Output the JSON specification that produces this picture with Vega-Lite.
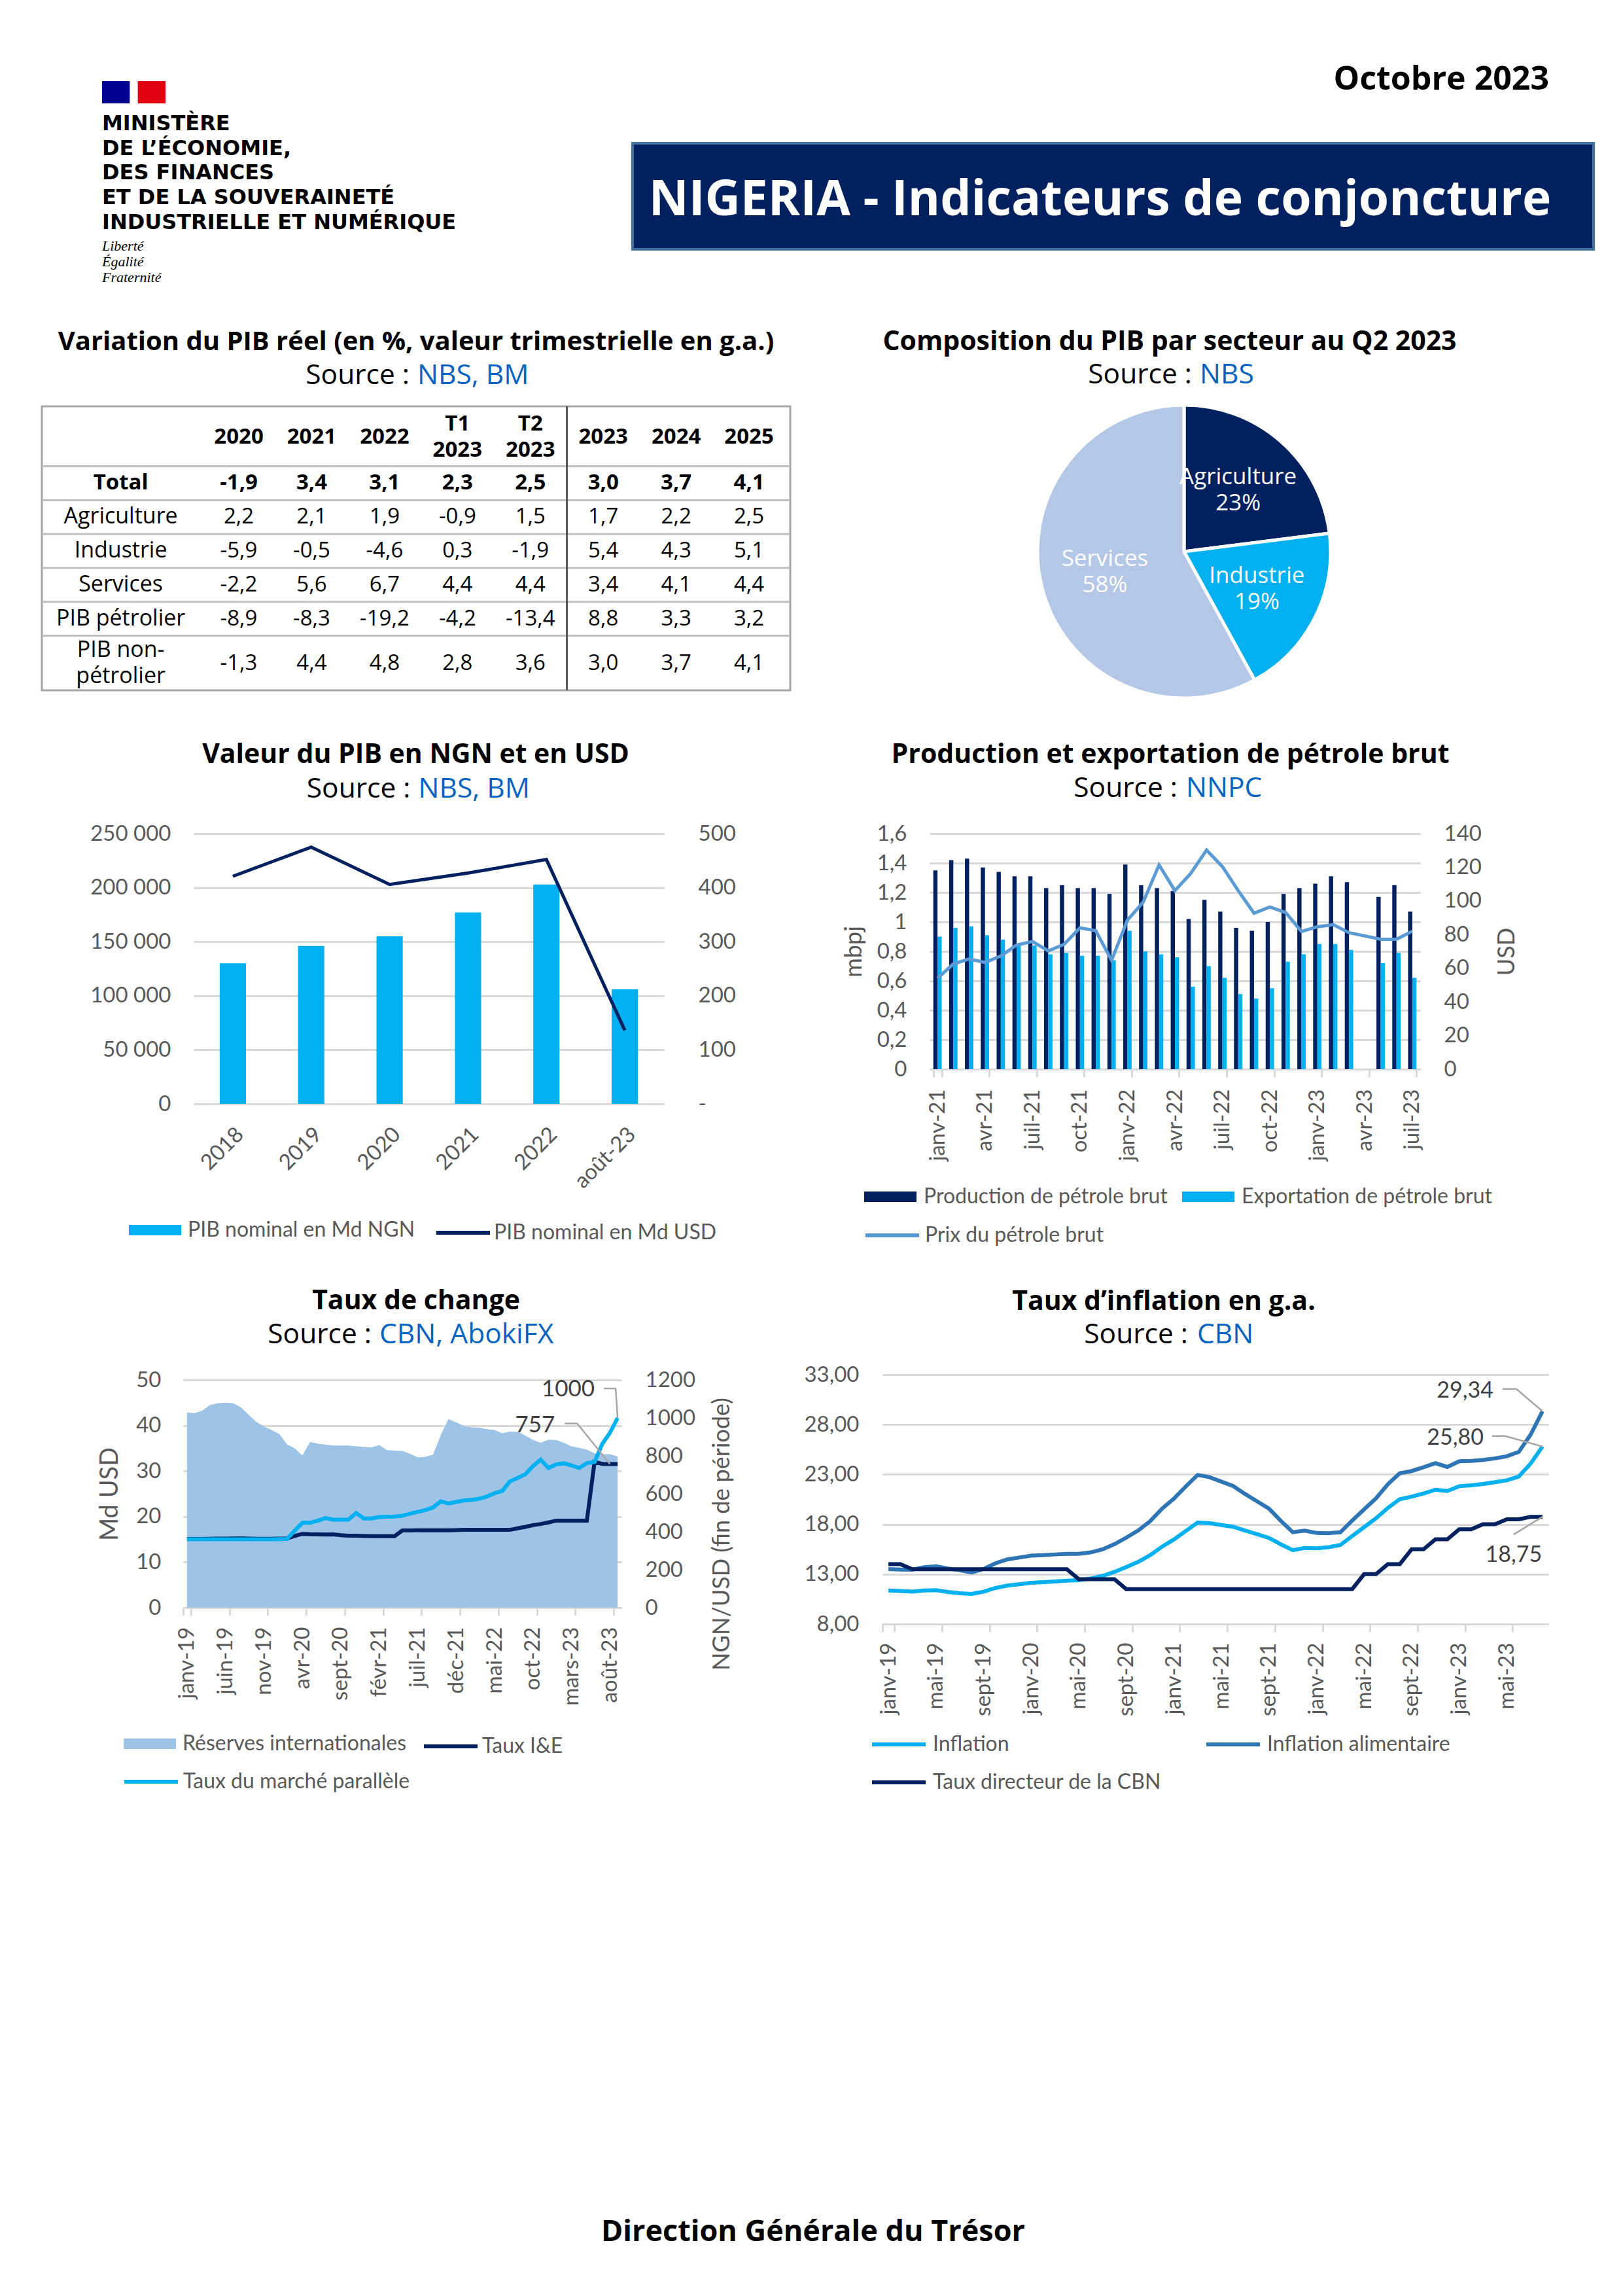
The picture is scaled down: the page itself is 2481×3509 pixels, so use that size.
{
"$schema": "https://vega.github.io/schema/vega-lite/v6.json",
"padding": 0,
"background": "white",
"spacing": 0,
"align": "each",
"resolve": {"scale": {"color": "independent", "fill": "independent", "stroke": "independent"}},
"config": {
  "font": "Lato",
  "view": {"stroke": null},
  "title": {"font": "Open Sans", "fontSize": 41, "fontWeight": "bold", "color": "#000000", "anchor": "middle", "frame": "group"},
  "axis": {"labelFont": "Lato", "labelFontSize": 33, "labelColor": "#595959", "labelLimit": 0, "titleFont": "Lato", "titleFontSize": 36, "titleFontWeight": "normal", "titleColor": "#595959", "gridColor": "#D9D9D9", "gridWidth": 3, "domain": false, "ticks": false, "labelOverlap": false},
  "legend": {"labelFont": "Lato", "labelFontSize": 32, "labelColor": "#595959", "labelLimit": 0, "padding": 0},
  "text": {"font": "Open Sans"},
  "locale": {"number": {"decimal": ",", "thousands": " ", "grouping": [3], "currency": ["", " €"], "minus": "-"}}
},
"vconcat": [
  {"width": 1, "height": 90, "data": {"values": []}, "mark": "point"},
  {"hconcat": [
    {"width": 156, "height": 390, "data": {"values": []}, "mark": "point"},
    {"vconcat": [
      {"width": 97, "height": 34, "data": {"values": []}, "mark": "point"},
      {
        "width": 97, "height": 34,
        "data": {"values": [{"bande": "bleu"}, {"bande": "rouge"}]},
        "mark": {"type": "bar"},
        "encoding": {
          "x": {"field": "bande", "type": "nominal", "sort": ["bleu", "rouge"], "axis": null, "scale": {"paddingInner": 0.225, "paddingOuter": 0}},
          "fill": {"field": "bande", "type": "nominal", "scale": {"domain": ["bleu", "rouge"], "range": ["#000091", "#E1000F"]}, "legend": null}
        },
        "title": {"text": ["MINISTÈRE", "DE L’ÉCONOMIE,", "DES FINANCES", "ET DE LA SOUVERAINETÉ", "INDUSTRIELLE ET NUMÉRIQUE"], "orient": "bottom", "anchor": "start", "font": "DejaVu Sans", "fontSize": 32, "fontWeight": "bold", "lineHeight": 37.7, "offset": 16, "subtitle": ["Liberté", "Égalité", "Fraternité"], "subtitleFont": "Liberation Serif", "subtitleFontStyle": "italic", "subtitleFontSize": 22, "subtitleLineHeight": 24, "subtitlePadding": 9, "subtitleColor": "#000000"}
      }
    ], "spacing": 0, "bounds": "flush", "align": "each"},
    {"width": 811, "height": 1, "data": {"values": []}, "mark": "point"},
    {"vconcat": [
      {"width": 1469, "height": 129, "data": {"values": []}, "mark": "point"},
      {
        "width": 1469, "height": 162,
        "view": {"fill": "#002060", "stroke": "#41719C", "strokeWidth": 4},
        "title": {"text": "Octobre 2023", "anchor": "end", "fontSize": 50, "offset": 72, "dx": -68},
        "data": {"values": [{"titre": "NIGERIA - Indicateurs de conjoncture"}]},
        "mark": {"type": "text", "color": "#FFFFFF", "font": "Open Sans", "fontSize": 75, "fontWeight": "bold", "dx": -20, "dy": 6},
        "encoding": {"text": {"field": "titre"}}
      }
    ], "spacing": 0, "bounds": "flush", "align": "each"}
  ], "spacing": 0, "bounds": "flush", "align": "each"},

  {"hconcat": [
    {"width": 64, "height": 630, "data": {"values": []}, "mark": "point"},
    {"vconcat": [
      {
        "width": 1144, "height": 141,
        "data": {"values": [{"titre": "Variation du PIB réel (en %, valeur trimestrielle en g.a.)", "source": "Source :", "lien": "NBS, BM"}]},
        "layer": [
          {"mark": {"type": "text", "fontSize": 40, "fontWeight": "bold", "color": "#000000", "dy": -28}, "encoding": {"text": {"field": "titre"}}},
          {"mark": {"type": "text", "fontSize": 42.5, "color": "#000000", "align": "right", "dx": -10, "dy": 23}, "encoding": {"text": {"field": "source"}}},
          {"mark": {"type": "text", "fontSize": 42.5, "color": "#0563C1", "align": "left", "dx": 2, "dy": 23}, "encoding": {"text": {"field": "lien"}}}
        ]
      },
      {
        "width": 1144, "height": 434,
        "view": {"stroke": "#A6A6A6", "strokeWidth": 3},
        "data": {"values": [
          {"ligne": "Total", "libelle": "Total", "2020": -1.9, "2021": 3.4, "2022": 3.1, "T1 2023": 2.3, "T2 2023": 2.5, "2023": 3.0, "2024": 3.7, "2025": 4.1},
          {"ligne": "Agriculture", "libelle": "Agriculture", "2020": 2.2, "2021": 2.1, "2022": 1.9, "T1 2023": -0.9, "T2 2023": 1.5, "2023": 1.7, "2024": 2.2, "2025": 2.5},
          {"ligne": "Industrie", "libelle": "Industrie", "2020": -5.9, "2021": -0.5, "2022": -4.6, "T1 2023": 0.3, "T2 2023": -1.9, "2023": 5.4, "2024": 4.3, "2025": 5.1},
          {"ligne": "Services", "libelle": "Services", "2020": -2.2, "2021": 5.6, "2022": 6.7, "T1 2023": 4.4, "T2 2023": 4.4, "2023": 3.4, "2024": 4.1, "2025": 4.4},
          {"ligne": "PIB pétrolier", "libelle": "PIB pétrolier", "2020": -8.9, "2021": -8.3, "2022": -19.2, "T1 2023": -4.2, "T2 2023": -13.4, "2023": 8.8, "2024": 3.3, "2025": 3.2},
          {"ligne": "PIB non-pétrolier", "libelle": "PIB non-\npétrolier", "2020": -1.3, "2021": 4.4, "2022": 4.8, "T1 2023": 2.8, "T2 2023": 3.6, "2023": 3.0, "2024": 3.7, "2025": 4.1}
        ]},
        "layer": [
          {"mark": {"type": "rule", "color": "#BFBFBF", "strokeWidth": 3},
           "encoding": {"y": {"field": "ligne", "type": "nominal", "bandPosition": 0, "axis": null,
             "scale": {"type": "band", "domain": ["Entête", "Total", "Agriculture", "Industrie", "Services", "PIB pétrolier", "PIB non-pétrolier"], "paddingInner": 0, "paddingOuter": 0.6925, "align": 0.556}}}},
          {"mark": {"type": "rule", "color": "#595959", "strokeWidth": 2},
           "encoding": {"x": {"datum": "2023", "type": "nominal", "bandPosition": 0, "axis": null,
             "scale": {"type": "band", "domain": ["Indicateur", "2020", "2021", "2022", "T1 2023", "T2 2023", "2023", "2024", "2025"], "paddingInner": 0, "paddingOuter": 0.633, "align": 0.949}}}},
          {"data": {"values": [{"col": "2020"}, {"col": "2021"}, {"col": "2022"}, {"col": "2023"}, {"col": "2024"}, {"col": "2025"}]},
           "mark": {"type": "text", "fontSize": 33, "fontWeight": "bold", "color": "#000000"},
           "encoding": {
             "x": {"field": "col", "type": "nominal", "axis": null},
             "y": {"datum": "Entête", "type": "nominal", "bandPosition": 0.13, "axis": null},
             "text": {"field": "col"}}},
          {"data": {"values": [{"col": "T1 2023"}, {"col": "T2 2023"}]},
           "mark": {"type": "text", "fontSize": 33, "fontWeight": "bold", "color": "#000000", "lineBreak": " ", "lineHeight": 40, "dy": -20},
           "encoding": {
             "x": {"field": "col", "type": "nominal", "axis": null},
             "y": {"datum": "Entête", "type": "nominal", "bandPosition": 0.13, "axis": null},
             "text": {"field": "col"}}},
          {"transform": [{"filter": {"field": "ligne", "oneOf": ["Agriculture", "Industrie", "Services", "PIB pétrolier"]}}],
           "mark": {"type": "text", "fontSize": 34, "color": "#000000", "dx": -69},
           "encoding": {"x": {"datum": "Indicateur", "type": "nominal", "axis": null}, "y": {"field": "ligne", "type": "nominal", "axis": null}, "text": {"field": "libelle"}}},
          {"transform": [{"filter": {"field": "ligne", "equal": "Total"}}],
           "mark": {"type": "text", "fontSize": 33, "fontWeight": "bold", "color": "#000000", "dx": -69},
           "encoding": {"x": {"datum": "Indicateur", "type": "nominal", "axis": null}, "y": {"field": "ligne", "type": "nominal", "axis": null}, "text": {"field": "libelle"}}},
          {"transform": [{"filter": {"field": "ligne", "equal": "PIB non-pétrolier"}}],
           "mark": {"type": "text", "fontSize": 34, "color": "#000000", "dx": -69, "dy": -20, "lineBreak": "\n", "lineHeight": 40},
           "encoding": {"x": {"datum": "Indicateur", "type": "nominal", "axis": null}, "y": {"field": "ligne", "type": "nominal", "bandPosition": 0.83, "axis": null}, "text": {"field": "libelle"}}},
          {"transform": [{"fold": ["2020", "2021", "2022", "T1 2023", "T2 2023", "2023", "2024", "2025"], "as": ["col", "v"]}, {"filter": {"field": "ligne", "oneOf": ["Agriculture", "Industrie", "Services", "PIB pétrolier"]}}],
           "mark": {"type": "text", "fontSize": 33, "color": "#000000"},
           "encoding": {"x": {"field": "col", "type": "nominal", "axis": null}, "y": {"field": "ligne", "type": "nominal", "axis": null}, "text": {"field": "v", "type": "quantitative", "format": ".1f"}}},
          {"transform": [{"fold": ["2020", "2021", "2022", "T1 2023", "T2 2023", "2023", "2024", "2025"], "as": ["col", "v"]}, {"filter": {"field": "ligne", "equal": "Total"}}],
           "mark": {"type": "text", "fontSize": 33, "fontWeight": "bold", "color": "#000000"},
           "encoding": {"x": {"field": "col", "type": "nominal", "axis": null}, "y": {"field": "ligne", "type": "nominal", "axis": null}, "text": {"field": "v", "type": "quantitative", "format": ".1f"}}},
          {"transform": [{"fold": ["2020", "2021", "2022", "T1 2023", "T2 2023", "2023", "2024", "2025"], "as": ["col", "v"]}, {"filter": {"field": "ligne", "equal": "PIB non-pétrolier"}}],
           "mark": {"type": "text", "fontSize": 33, "color": "#000000"},
           "encoding": {"x": {"field": "col", "type": "nominal", "axis": null}, "y": {"field": "ligne", "type": "nominal", "bandPosition": 0.83, "axis": null}, "text": {"field": "v", "type": "quantitative", "format": ".1f"}}}
        ]
      }
    ], "spacing": 0, "bounds": "flush", "align": "each"},
    {"width": 1522, "height": 1, "data": {"values": []}, "mark": "point"},
    {"vconcat": [
      {
        "width": 448, "height": 141,
        "data": {"values": [{"titre": "Composition du PIB par secteur au Q2 2023", "source": "Source :", "lien": "NBS"}]},
        "layer": [
          {"mark": {"type": "text", "fontSize": 41, "fontWeight": "bold", "color": "#000000", "dx": -22, "dy": -28}, "encoding": {"text": {"field": "titre"}}},
          {"mark": {"type": "text", "fontSize": 42.5, "color": "#000000", "align": "right", "dx": 12, "dy": 22}, "encoding": {"text": {"field": "source"}}},
          {"mark": {"type": "text", "fontSize": 42.5, "color": "#0563C1", "align": "left", "dx": 24, "dy": 22}, "encoding": {"text": {"field": "lien"}}}
        ]
      },
      {
        "width": 448, "height": 444,
        "data": {"values": [
          {"secteur": "Agriculture", "part": 23, "etiquette": "Agriculture\n23%"},
          {"secteur": "Industrie", "part": 19, "etiquette": "Industrie\n19%"},
          {"secteur": "Services", "part": 58, "etiquette": "Services\n58%"}
        ]},
        "encoding": {
          "theta": {"field": "part", "type": "quantitative", "stack": true},
          "order": {"field": "secteur", "type": "nominal", "sort": "ascending"}
        },
        "layer": [
          {"mark": {"type": "arc", "outerRadius": 224, "stroke": "#FFFFFF", "strokeWidth": 5},
           "encoding": {"color": {"field": "secteur", "type": "nominal", "scale": {"domain": ["Agriculture", "Industrie", "Services"], "range": ["#002060", "#00B0F0", "#B4C7E7"]}, "legend": null}}},
          {"mark": {"type": "text", "radius": 125, "lineBreak": "\n", "lineHeight": 40, "fontSize": 35, "color": "#FFFFFF", "dy": -20},
           "encoding": {"text": {"field": "etiquette"}, "detail": {"field": "secteur"}}}
        ]
      }
    ], "spacing": 0, "bounds": "flush", "align": "each"}
  ], "spacing": 0, "bounds": "flush", "align": "each"},

  {"hconcat": [
    {"width": 296, "height": 840, "data": {"values": []}, "mark": "point"},
    {"vconcat": [
      {
        "width": 719, "height": 164,
        "data": {"values": [{"titre": "Valeur du PIB en NGN et en USD", "source": "Source :", "lien": "NBS, BM"}]},
        "layer": [
          {"mark": {"type": "text", "fontSize": 41, "fontWeight": "bold", "color": "#000000", "dx": -20, "dy": -38}, "encoding": {"text": {"field": "titre"}}},
          {"mark": {"type": "text", "fontSize": 42.5, "color": "#000000", "align": "right", "dx": -28, "dy": 14}, "encoding": {"text": {"field": "source"}}},
          {"mark": {"type": "text", "fontSize": 42.5, "color": "#0563C1", "align": "left", "dx": -16, "dy": 14}, "encoding": {"text": {"field": "lien"}}}
        ]
      },
      {
        "width": 719, "height": 413,
        "data": {"values": [
          {"annee": "2018", "PIB nominal en Md NGN": 130000, "PIB nominal en Md USD": 421},
          {"annee": "2019", "PIB nominal en Md NGN": 146000, "PIB nominal en Md USD": 475},
          {"annee": "2020", "PIB nominal en Md NGN": 155000, "PIB nominal en Md USD": 406},
          {"annee": "2021", "PIB nominal en Md NGN": 177000, "PIB nominal en Md USD": 427},
          {"annee": "2022", "PIB nominal en Md NGN": 203000, "PIB nominal en Md USD": 452},
          {"annee": "août-23", "PIB nominal en Md NGN": 106000, "PIB nominal en Md USD": 136}
        ]},
        "layer": [
          {"mark": {"type": "bar"},
           "encoding": {
             "x": {"field": "annee", "type": "ordinal", "sort": null, "scale": {"type": "band", "paddingInner": 0.665, "paddingOuter": 0.3325}, "axis": {"title": null, "labelAngle": -45, "labelPadding": 30, "grid": false}},
             "y": {"field": "PIB nominal en Md NGN", "type": "quantitative", "scale": {"domain": [0, 250000], "nice": false}, "axis": {"title": null, "values": [0, 50000, 100000, 150000, 200000, 250000], "format": ",.0f", "labelPadding": 35, "grid": true}},
             "fill": {"datum": "PIB nominal en Md NGN", "scale": {"range": ["#00B0F0"]}, "legend": {"orient": "none", "legendX": -99, "legendY": 566, "title": null, "symbolType": "M-1,-0.2H1V0.2H-1Z", "symbolSize": 6400, "symbolStrokeWidth": 0, "labelOffset": 10}}
           }},
          {"mark": {"type": "line", "strokeWidth": 5},
           "encoding": {
             "x": {"field": "annee", "type": "ordinal", "sort": null},
             "y": {"field": "PIB nominal en Md USD", "type": "quantitative", "scale": {"domain": [0, 500], "nice": false}, "axis": {"orient": "right", "title": null, "values": [0, 100, 200, 300, 400, 500], "labelExpr": "datum.value === 0 ? '-' : datum.label", "labelAlign": "left", "labelPadding": 52, "grid": false}},
             "stroke": {"datum": "PIB nominal en Md USD", "scale": {"range": ["#002060"]}, "legend": {"orient": "none", "legendX": 368, "legendY": 566, "title": null, "symbolType": "stroke", "symbolSize": 6724, "symbolStrokeWidth": 6, "labelOffset": 3}}
           }}
        ],
        "resolve": {"scale": {"y": "independent", "fill": "independent", "stroke": "independent"}}
      }
    ], "spacing": 0, "bounds": "flush", "align": "each"},
    {"width": 1125, "height": 1, "data": {"values": []}, "mark": "point"},
    {"vconcat": [
      {
        "width": 750, "height": 164,
        "data": {"values": [{"titre": "Production et exportation de pétrole brut", "source": "Source :", "lien": "NNPC"}]},
        "layer": [
          {"mark": {"type": "text", "fontSize": 41, "fontWeight": "bold", "color": "#000000", "dx": -7, "dy": -38}, "encoding": {"text": {"field": "titre"}}},
          {"mark": {"type": "text", "fontSize": 42.5, "color": "#000000", "align": "right", "dx": 4, "dy": 13}, "encoding": {"text": {"field": "source"}}},
          {"mark": {"type": "text", "fontSize": 42.5, "color": "#0563C1", "align": "left", "dx": 17, "dy": 13}, "encoding": {"text": {"field": "lien"}}}
        ]
      },
      {
        "width": 750, "height": 360,
        "data": {"values": [
          {"mois": "janv-21", "Production de pétrole brut": 1.35, "Exportation de pétrole brut": 0.90, "Prix du pétrole brut": 54.0},
          {"mois": "févr-21", "Production de pétrole brut": 1.42, "Exportation de pétrole brut": 0.96, "Prix du pétrole brut": 62.5},
          {"mois": "mars-21", "Production de pétrole brut": 1.43, "Exportation de pétrole brut": 0.97, "Prix du pétrole brut": 65.5},
          {"mois": "avr-21", "Production de pétrole brut": 1.37, "Exportation de pétrole brut": 0.91, "Prix du pétrole brut": 63.4},
          {"mois": "mai-21", "Production de pétrole brut": 1.34, "Exportation de pétrole brut": 0.88, "Prix du pétrole brut": 67.3},
          {"mois": "juin-21", "Production de pétrole brut": 1.31, "Exportation de pétrole brut": 0.85, "Prix du pétrole brut": 73.8},
          {"mois": "juil-21", "Production de pétrole brut": 1.31, "Exportation de pétrole brut": 0.84, "Prix du pétrole brut": 75.9},
          {"mois": "août-21", "Production de pétrole brut": 1.23, "Exportation de pétrole brut": 0.78, "Prix du pétrole brut": 70.3},
          {"mois": "sept-21", "Production de pétrole brut": 1.25, "Exportation de pétrole brut": 0.79, "Prix du pétrole brut": 74.2},
          {"mois": "oct-21", "Production de pétrole brut": 1.23, "Exportation de pétrole brut": 0.77, "Prix du pétrole brut": 84.0},
          {"mois": "nov-21", "Production de pétrole brut": 1.23, "Exportation de pétrole brut": 0.77, "Prix du pétrole brut": 82.3},
          {"mois": "déc-21", "Production de pétrole brut": 1.19, "Exportation de pétrole brut": 0.74, "Prix du pétrole brut": 64.7},
          {"mois": "janv-22", "Production de pétrole brut": 1.39, "Exportation de pétrole brut": 0.94, "Prix du pétrole brut": 88.5},
          {"mois": "févr-22", "Production de pétrole brut": 1.25, "Exportation de pétrole brut": 0.80, "Prix du pétrole brut": 99.3},
          {"mois": "mars-22", "Production de pétrole brut": 1.23, "Exportation de pétrole brut": 0.78, "Prix du pétrole brut": 121.4},
          {"mois": "avr-22", "Production de pétrole brut": 1.21, "Exportation de pétrole brut": 0.76, "Prix du pétrole brut": 106.1},
          {"mois": "mai-22", "Production de pétrole brut": 1.02, "Exportation de pétrole brut": 0.56, "Prix du pétrole brut": 116.3},
          {"mois": "juin-22", "Production de pétrole brut": 1.15, "Exportation de pétrole brut": 0.70, "Prix du pétrole brut": 130.2},
          {"mois": "juil-22", "Production de pétrole brut": 1.07, "Exportation de pétrole brut": 0.62, "Prix du pétrole brut": 120.4},
          {"mois": "août-22", "Production de pétrole brut": 0.96, "Exportation de pétrole brut": 0.51, "Prix du pétrole brut": 106.1},
          {"mois": "sept-22", "Production de pétrole brut": 0.94, "Exportation de pétrole brut": 0.48, "Prix du pétrole brut": 92.7},
          {"mois": "oct-22", "Production de pétrole brut": 1.00, "Exportation de pétrole brut": 0.55, "Prix du pétrole brut": 96.4},
          {"mois": "nov-22", "Production de pétrole brut": 1.19, "Exportation de pétrole brut": 0.73, "Prix du pétrole brut": 93.1},
          {"mois": "déc-22", "Production de pétrole brut": 1.23, "Exportation de pétrole brut": 0.78, "Prix du pétrole brut": 81.8},
          {"mois": "janv-23", "Production de pétrole brut": 1.26, "Exportation de pétrole brut": 0.85, "Prix du pétrole brut": 84.6},
          {"mois": "févr-23", "Production de pétrole brut": 1.31, "Exportation de pétrole brut": 0.85, "Prix du pétrole brut": 85.9},
          {"mois": "mars-23", "Production de pétrole brut": 1.27, "Exportation de pétrole brut": 0.81, "Prix du pétrole brut": 81.1},
          {"mois": "avr-23", "Production de pétrole brut": null, "Exportation de pétrole brut": null, "Prix du pétrole brut": 79.2},
          {"mois": "mai-23", "Production de pétrole brut": 1.17, "Exportation de pétrole brut": 0.72, "Prix du pétrole brut": 77.2},
          {"mois": "juin-23", "Production de pétrole brut": 1.25, "Exportation de pétrole brut": 0.79, "Prix du pétrole brut": 77.2},
          {"mois": "juil-23", "Production de pétrole brut": 1.07, "Exportation de pétrole brut": 0.62, "Prix du pétrole brut": 82.0}
        ]},
        "layer": [
          {"transform": [{"fold": ["Production de pétrole brut", "Exportation de pétrole brut"], "as": ["serie", "mbpj"]}],
           "mark": {"type": "bar"},
           "encoding": {
             "x": {"field": "mois", "type": "ordinal", "sort": null,
                   "scale": {"type": "band", "paddingInner": 0.47, "paddingOuter": 0.235, "domain": ["janv-21", "févr-21", "mars-21", "avr-21", "mai-21", "juin-21", "juil-21", "août-21", "sept-21", "oct-21", "nov-21", "déc-21", "janv-22", "févr-22", "mars-22", "avr-22", "mai-22", "juin-22", "juil-22", "août-22", "sept-22", "oct-22", "nov-22", "déc-22", "janv-23", "févr-23", "mars-23", "avr-23", "mai-23", "juin-23", "juil-23"]},
                   "axis": {"title": null, "values": ["janv-21", "avr-21", "juil-21", "oct-21", "janv-22", "avr-22", "juil-22", "oct-22", "janv-23", "avr-23", "juil-23"], "labelAngle": 270, "labelPadding": 18, "ticks": true, "tickBand": "extent", "tickSize": 12, "tickColor": "#D9D9D9", "tickWidth": 3, "domain": true, "domainColor": "#D9D9D9", "domainWidth": 3, "grid": false}},
             "xOffset": {"field": "serie", "type": "nominal", "sort": ["Production de pétrole brut", "Exportation de pétrole brut"], "scale": {"paddingInner": 0, "paddingOuter": 0}},
             "y": {"field": "mbpj", "type": "quantitative", "scale": {"domain": [0, 1.6], "nice": false}, "axis": {"title": "mbpj", "titleAngle": 270, "titlePadding": 16, "values": [0, 0.2, 0.4, 0.6, 0.8, 1, 1.2, 1.4, 1.6], "format": ".1~f", "labelPadding": 35, "grid": true}},
             "fill": {"field": "serie", "type": "nominal", "scale": {"domain": ["Production de pétrole brut", "Exportation de pétrole brut"], "range": ["#002060", "#00B0F0"]}, "legend": {"orient": "none", "legendX": -100, "legendY": 515, "title": null, "direction": "horizontal", "columnPadding": 22, "symbolType": "M-1,-0.2H1V0.2H-1Z", "symbolSize": 6400, "symbolStrokeWidth": 0, "labelOffset": 11}}
           }},
          {"mark": {"type": "line", "strokeWidth": 5},
           "encoding": {
             "x": {"field": "mois", "type": "ordinal", "sort": null},
             "y": {"field": "Prix du pétrole brut", "type": "quantitative", "scale": {"domain": [0, 140], "nice": false}, "axis": {"orient": "right", "title": "USD", "titleAngle": 270, "titlePadding": 58, "values": [0, 20, 40, 60, 80, 100, 120, 140], "labelAlign": "left", "labelPadding": 36, "grid": false}},
             "stroke": {"datum": "Prix du pétrole brut", "scale": {"range": ["#5B9BD5"]}, "legend": {"orient": "none", "legendX": -101, "legendY": 570, "title": null, "symbolType": "stroke", "symbolSize": 6724, "symbolStrokeWidth": 6, "labelOffset": 6}}
           }}
        ],
        "resolve": {"scale": {"y": "independent", "fill": "independent", "stroke": "independent"}}
      }
    ], "spacing": 0, "bounds": "flush", "align": "each"}
  ], "spacing": 0, "bounds": "flush", "align": "each"},

  {"hconcat": [
    {"width": 280, "height": 1341, "data": {"values": []}, "mark": "point"},
    {"vconcat": [
      {
        "width": 670, "height": 159,
        "data": {"values": [{"titre": "Taux de change", "source": "Source :", "lien": "CBN, AbokiFX"}]},
        "layer": [
          {"mark": {"type": "text", "fontSize": 41, "fontWeight": "bold", "color": "#000000", "dx": 21, "dy": -41}, "encoding": {"text": {"field": "titre"}}},
          {"mark": {"type": "text", "fontSize": 42.5, "color": "#000000", "align": "right", "dx": -47, "dy": 10}, "encoding": {"text": {"field": "source"}}},
          {"mark": {"type": "text", "fontSize": 42.5, "color": "#0563C1", "align": "left", "dx": -35, "dy": 10}, "encoding": {"text": {"field": "lien"}}}
        ]
      },
      {
        "width": 670, "height": 348,
        "data": {"values": [
          {"mois": "janv-19", "Réserves internationales": 42.9, "Taux I&E": 362, "Taux du marché parallèle": 360},
          {"mois": "févr-19", "Réserves internationales": 42.7, "Taux I&E": 362, "Taux du marché parallèle": 360},
          {"mois": "mars-19", "Réserves internationales": 43.3, "Taux I&E": 362, "Taux du marché parallèle": 360},
          {"mois": "avr-19", "Réserves internationales": 44.5, "Taux I&E": 363, "Taux du marché parallèle": 360},
          {"mois": "mai-19", "Réserves internationales": 44.9, "Taux I&E": 364, "Taux du marché parallèle": 360},
          {"mois": "juin-19", "Réserves internationales": 45.0, "Taux I&E": 364, "Taux du marché parallèle": 360},
          {"mois": "juil-19", "Réserves internationales": 44.9, "Taux I&E": 365, "Taux du marché parallèle": 360},
          {"mois": "août-19", "Réserves internationales": 44.0, "Taux I&E": 365, "Taux du marché parallèle": 360},
          {"mois": "sept-19", "Réserves internationales": 42.4, "Taux I&E": 364, "Taux du marché parallèle": 360},
          {"mois": "oct-19", "Réserves internationales": 40.8, "Taux I&E": 363, "Taux du marché parallèle": 360},
          {"mois": "nov-19", "Réserves internationales": 39.8, "Taux I&E": 363, "Taux du marché parallèle": 360},
          {"mois": "déc-19", "Réserves internationales": 39.0, "Taux I&E": 363, "Taux du marché parallèle": 360},
          {"mois": "janv-20", "Réserves internationales": 38.1, "Taux I&E": 364, "Taux du marché parallèle": 361},
          {"mois": "févr-20", "Réserves internationales": 35.9, "Taux I&E": 365, "Taux du marché parallèle": 362},
          {"mois": "mars-20", "Réserves internationales": 35.0, "Taux I&E": 378, "Taux du marché parallèle": 405},
          {"mois": "avr-20", "Réserves internationales": 33.4, "Taux I&E": 389, "Taux du marché parallèle": 447},
          {"mois": "mai-20", "Réserves internationales": 36.4, "Taux I&E": 387, "Taux du marché parallèle": 447},
          {"mois": "juin-20", "Réserves internationales": 36.0, "Taux I&E": 386, "Taux du marché parallèle": 458},
          {"mois": "juil-20", "Réserves internationales": 35.8, "Taux I&E": 385, "Taux du marché parallèle": 472},
          {"mois": "août-20", "Réserves internationales": 35.6, "Taux I&E": 386, "Taux du marché parallèle": 464},
          {"mois": "sept-20", "Réserves internationales": 35.6, "Taux I&E": 382, "Taux du marché parallèle": 464},
          {"mois": "oct-20", "Réserves internationales": 35.6, "Taux I&E": 379, "Taux du marché parallèle": 464},
          {"mois": "nov-20", "Réserves internationales": 35.4, "Taux I&E": 379, "Taux du marché parallèle": 499},
          {"mois": "déc-20", "Réserves internationales": 35.3, "Taux I&E": 378, "Taux du marché parallèle": 470},
          {"mois": "janv-21", "Réserves internationales": 35.2, "Taux I&E": 377, "Taux du marché parallèle": 470},
          {"mois": "févr-21", "Réserves internationales": 35.7, "Taux I&E": 377, "Taux du marché parallèle": 478},
          {"mois": "mars-21", "Réserves internationales": 34.6, "Taux I&E": 377, "Taux du marché parallèle": 479},
          {"mois": "avr-21", "Réserves internationales": 34.5, "Taux I&E": 377, "Taux du marché parallèle": 480},
          {"mois": "mai-21", "Réserves internationales": 34.4, "Taux I&E": 407, "Taux du marché parallèle": 484},
          {"mois": "juin-21", "Réserves internationales": 33.8, "Taux I&E": 407, "Taux du marché parallèle": 495},
          {"mois": "juil-21", "Réserves internationales": 33.0, "Taux I&E": 408, "Taux du marché parallèle": 505},
          {"mois": "août-21", "Réserves internationales": 33.1, "Taux I&E": 408, "Taux du marché parallèle": 514},
          {"mois": "sept-21", "Réserves internationales": 33.6, "Taux I&E": 408, "Taux du marché parallèle": 528},
          {"mois": "oct-21", "Réserves internationales": 37.9, "Taux I&E": 408, "Taux du marché parallèle": 560},
          {"mois": "nov-21", "Réserves internationales": 41.4, "Taux I&E": 408, "Taux du marché parallèle": 549},
          {"mois": "déc-21", "Réserves internationales": 40.7, "Taux I&E": 409, "Taux du marché parallèle": 557},
          {"mois": "janv-22", "Réserves internationales": 39.9, "Taux I&E": 410, "Taux du marché parallèle": 565},
          {"mois": "févr-22", "Réserves internationales": 39.6, "Taux I&E": 410, "Taux du marché parallèle": 568},
          {"mois": "mars-22", "Réserves internationales": 39.5, "Taux I&E": 410, "Taux du marché parallèle": 574},
          {"mois": "avr-22", "Réserves internationales": 39.2, "Taux I&E": 410, "Taux du marché parallèle": 586},
          {"mois": "mai-22", "Réserves internationales": 39.0, "Taux I&E": 410, "Taux du marché parallèle": 603},
          {"mois": "juin-22", "Réserves internationales": 38.3, "Taux I&E": 410, "Taux du marché parallèle": 615},
          {"mois": "juil-22", "Réserves internationales": 38.7, "Taux I&E": 410, "Taux du marché parallèle": 666},
          {"mois": "août-22", "Réserves internationales": 38.6, "Taux I&E": 418, "Taux du marché parallèle": 684},
          {"mois": "sept-22", "Réserves internationales": 37.8, "Taux I&E": 426, "Taux du marché parallèle": 703},
          {"mois": "oct-22", "Réserves internationales": 36.8, "Taux I&E": 435, "Taux du marché parallèle": 747},
          {"mois": "nov-22", "Réserves internationales": 36.2, "Taux I&E": 441, "Taux du marché parallèle": 780},
          {"mois": "déc-22", "Réserves internationales": 36.9, "Taux I&E": 449, "Taux du marché parallèle": 736},
          {"mois": "janv-23", "Réserves internationales": 36.8, "Taux I&E": 459, "Taux du marché parallèle": 755},
          {"mois": "févr-23", "Réserves internationales": 36.2, "Taux I&E": 459, "Taux du marché parallèle": 761},
          {"mois": "mars-23", "Réserves internationales": 35.4, "Taux I&E": 459, "Taux du marché parallèle": 750},
          {"mois": "avr-23", "Réserves internationales": 35.1, "Taux I&E": 459, "Taux du marché parallèle": 736},
          {"mois": "mai-23", "Réserves internationales": 34.7, "Taux I&E": 459, "Taux du marché parallèle": 762},
          {"mois": "juin-23", "Réserves internationales": 33.9, "Taux I&E": 768, "Taux du marché parallèle": 767},
          {"mois": "juil-23", "Réserves internationales": 33.7, "Taux I&E": 758, "Taux du marché parallèle": 863},
          {"mois": "août-23", "Réserves internationales": 33.7, "Taux I&E": 757, "Taux du marché parallèle": 921},
          {"mois": "sept-23", "Réserves internationales": 33.2, "Taux I&E": 757, "Taux du marché parallèle": 1000}
        ]},
        "layer": [
          {"mark": {"type": "area", "interpolate": "linear"},
           "encoding": {
             "x": {"field": "mois", "type": "ordinal", "sort": null, "scale": {"type": "band", "paddingInner": 0, "paddingOuter": 0},
                   "axis": {"title": null, "values": ["janv-19", "juin-19", "nov-19", "avr-20", "sept-20", "févr-21", "juil-21", "déc-21", "mai-22", "oct-22", "mars-23", "août-23"], "labelAngle": 270, "labelPadding": 17, "ticks": true, "tickBand": "extent", "tickSize": 12, "tickColor": "#D9D9D9", "tickWidth": 3, "domain": true, "domainColor": "#D9D9D9", "domainWidth": 3, "grid": false}},
             "y": {"field": "Réserves internationales", "type": "quantitative", "scale": {"domain": [0, 50], "nice": false}, "axis": {"title": "Md USD", "titleAngle": 270, "titleFontSize": 38, "titlePadding": 20, "values": [0, 10, 20, 30, 40, 50], "labelPadding": 34, "grid": true}},
             "fill": {"datum": "Réserves internationales", "scale": {"range": ["#9DC3E6"]}, "legend": {"orient": "none", "legendX": -91, "legendY": 516, "title": null, "symbolType": "M-1,-0.2H1V0.2H-1Z", "symbolSize": 6400, "symbolStrokeWidth": 0, "labelOffset": 10}}
           }},
          {"layer": [
            {"mark": {"type": "line", "strokeWidth": 6},
             "encoding": {
               "x": {"field": "mois", "type": "ordinal", "sort": null},
               "y": {"field": "Taux I&E", "type": "quantitative", "scale": {"domain": [0, 1200], "nice": false}, "axis": {"orient": "right", "title": "NGN/USD (fin de période)", "titleAngle": 270, "titleX": 153, "titleY": 235, "titleAlign": "center", "titleBaseline": "middle", "values": [0, 200, 400, 600, 800, 1000, 1200], "format": "d", "labelAlign": "left", "labelPadding": 36, "grid": false}},
               "stroke": {"datum": "Taux I&E", "scale": {"range": ["#002060"]}, "legend": {"orient": "none", "legendX": 365, "legendY": 516, "title": null, "symbolType": "stroke", "symbolSize": 6724, "symbolStrokeWidth": 6, "labelOffset": 4}}
             }},
            {"mark": {"type": "line", "strokeWidth": 6},
             "encoding": {
               "x": {"field": "mois", "type": "ordinal", "sort": null},
               "y": {"field": "Taux du marché parallèle", "type": "quantitative"},
               "stroke": {"datum": "Taux du marché parallèle", "scale": {"range": ["#00B0F0"]}, "legend": {"orient": "none", "legendX": -93, "legendY": 570, "title": null, "symbolType": "stroke", "symbolSize": 6724, "symbolStrokeWidth": 6, "labelOffset": 5}}
             }},
            {"transform": [{"filter": {"field": "mois", "equal": "sept-23"}}],
             "mark": {"type": "rule", "color": "#A6A6A6", "strokeWidth": 2.5, "x2Offset": -3, "y2Offset": -45},
             "encoding": {"x": {"field": "mois", "type": "ordinal", "sort": null}, "x2": {"field": "mois"}, "y": {"field": "Taux du marché parallèle", "type": "quantitative"}, "y2": {"field": "Taux du marché parallèle"}}},
            {"transform": [{"filter": {"field": "mois", "equal": "sept-23"}}],
             "mark": {"type": "rule", "color": "#A6A6A6", "strokeWidth": 2.5, "xOffset": -3, "yOffset": -45, "x2Offset": -21, "y2Offset": -45},
             "encoding": {"x": {"field": "mois", "type": "ordinal", "sort": null}, "x2": {"field": "mois"}, "y": {"field": "Taux du marché parallèle", "type": "quantitative"}, "y2": {"field": "Taux du marché parallèle"}}},
            {"transform": [{"filter": {"field": "mois", "equal": "sept-23"}}],
             "mark": {"type": "text", "font": "Lato", "align": "right", "baseline": "middle", "dx": -35, "dy": -44, "fontSize": 35, "color": "#404040"},
             "encoding": {"x": {"field": "mois", "type": "ordinal", "sort": null}, "y": {"field": "Taux du marché parallèle", "type": "quantitative"}, "text": {"field": "Taux du marché parallèle", "type": "quantitative", "format": "d"}}},
            {"transform": [{"filter": {"field": "mois", "equal": "août-23"}}],
             "mark": {"type": "rule", "color": "#A6A6A6", "strokeWidth": 2.5, "x2Offset": -50, "y2Offset": -62},
             "encoding": {"x": {"field": "mois", "type": "ordinal", "sort": null}, "x2": {"field": "mois"}, "y": {"field": "Taux I&E", "type": "quantitative"}, "y2": {"field": "Taux I&E"}}},
            {"transform": [{"filter": {"field": "mois", "equal": "août-23"}}],
             "mark": {"type": "rule", "color": "#A6A6A6", "strokeWidth": 2.5, "xOffset": -50, "yOffset": -62, "x2Offset": -69, "y2Offset": -62},
             "encoding": {"x": {"field": "mois", "type": "ordinal", "sort": null}, "x2": {"field": "mois"}, "y": {"field": "Taux I&E", "type": "quantitative"}, "y2": {"field": "Taux I&E"}}},
            {"transform": [{"filter": {"field": "mois", "equal": "août-23"}}],
             "mark": {"type": "text", "font": "Lato", "align": "right", "baseline": "middle", "dx": -84, "dy": -59, "fontSize": 35, "color": "#404040"},
             "encoding": {"x": {"field": "mois", "type": "ordinal", "sort": null}, "y": {"field": "Taux I&E", "type": "quantitative"}, "text": {"field": "Taux I&E", "type": "quantitative", "format": "d"}}}
          ],
          "resolve": {"scale": {"stroke": "independent"}}}
        ],
        "resolve": {"scale": {"y": "independent", "fill": "independent", "stroke": "independent"}}
      }
    ], "spacing": 0, "bounds": "flush", "align": "each"},
    {"width": 1069, "height": 1, "data": {"values": []}, "mark": "point"},
    {"vconcat": [
      {
        "width": 1018, "height": 151,
        "data": {"values": [{"titre": "Taux d’inflation en g.a.", "source": "Source :", "lien": "CBN"}]},
        "layer": [
          {"mark": {"type": "text", "fontSize": 41, "fontWeight": "bold", "color": "#000000", "dx": -79, "dy": -36}, "encoding": {"text": {"field": "titre"}}},
          {"mark": {"type": "text", "fontSize": 42.5, "color": "#000000", "align": "right", "dx": -42, "dy": 14}, "encoding": {"text": {"field": "source"}}},
          {"mark": {"type": "text", "fontSize": 42.5, "color": "#0563C1", "align": "left", "dx": -28, "dy": 14}, "encoding": {"text": {"field": "lien"}}}
        ]
      },
      {
        "width": 1018, "height": 381,
        "data": {"values": [
          {"mois": "janv-19", "Inflation": 11.37, "Inflation alimentaire": 13.51, "Taux directeur de la CBN": 14},
          {"mois": "févr-19", "Inflation": 11.31, "Inflation alimentaire": 13.47, "Taux directeur de la CBN": 14},
          {"mois": "mars-19", "Inflation": 11.25, "Inflation alimentaire": 13.45, "Taux directeur de la CBN": 13.5},
          {"mois": "avr-19", "Inflation": 11.37, "Inflation alimentaire": 13.70, "Taux directeur de la CBN": 13.5},
          {"mois": "mai-19", "Inflation": 11.40, "Inflation alimentaire": 13.79, "Taux directeur de la CBN": 13.5},
          {"mois": "juin-19", "Inflation": 11.22, "Inflation alimentaire": 13.56, "Taux directeur de la CBN": 13.5},
          {"mois": "juil-19", "Inflation": 11.08, "Inflation alimentaire": 13.39, "Taux directeur de la CBN": 13.5},
          {"mois": "août-19", "Inflation": 11.02, "Inflation alimentaire": 13.17, "Taux directeur de la CBN": 13.5},
          {"mois": "sept-19", "Inflation": 11.24, "Inflation alimentaire": 13.51, "Taux directeur de la CBN": 13.5},
          {"mois": "oct-19", "Inflation": 11.61, "Inflation alimentaire": 14.09, "Taux directeur de la CBN": 13.5},
          {"mois": "nov-19", "Inflation": 11.85, "Inflation alimentaire": 14.48, "Taux directeur de la CBN": 13.5},
          {"mois": "déc-19", "Inflation": 11.98, "Inflation alimentaire": 14.67, "Taux directeur de la CBN": 13.5},
          {"mois": "janv-20", "Inflation": 12.13, "Inflation alimentaire": 14.85, "Taux directeur de la CBN": 13.5},
          {"mois": "févr-20", "Inflation": 12.20, "Inflation alimentaire": 14.90, "Taux directeur de la CBN": 13.5},
          {"mois": "mars-20", "Inflation": 12.26, "Inflation alimentaire": 14.98, "Taux directeur de la CBN": 13.5},
          {"mois": "avr-20", "Inflation": 12.34, "Inflation alimentaire": 15.03, "Taux directeur de la CBN": 13.5},
          {"mois": "mai-20", "Inflation": 12.40, "Inflation alimentaire": 15.04, "Taux directeur de la CBN": 12.5},
          {"mois": "juin-20", "Inflation": 12.56, "Inflation alimentaire": 15.18, "Taux directeur de la CBN": 12.5},
          {"mois": "juil-20", "Inflation": 12.82, "Inflation alimentaire": 15.48, "Taux directeur de la CBN": 12.5},
          {"mois": "août-20", "Inflation": 13.22, "Inflation alimentaire": 16.00, "Taux directeur de la CBN": 12.5},
          {"mois": "sept-20", "Inflation": 13.71, "Inflation alimentaire": 16.66, "Taux directeur de la CBN": 11.5},
          {"mois": "oct-20", "Inflation": 14.23, "Inflation alimentaire": 17.38, "Taux directeur de la CBN": 11.5},
          {"mois": "nov-20", "Inflation": 14.89, "Inflation alimentaire": 18.30, "Taux directeur de la CBN": 11.5},
          {"mois": "déc-20", "Inflation": 15.75, "Inflation alimentaire": 19.56, "Taux directeur de la CBN": 11.5},
          {"mois": "janv-21", "Inflation": 16.47, "Inflation alimentaire": 20.57, "Taux directeur de la CBN": 11.5},
          {"mois": "févr-21", "Inflation": 17.33, "Inflation alimentaire": 21.79, "Taux directeur de la CBN": 11.5},
          {"mois": "mars-21", "Inflation": 18.17, "Inflation alimentaire": 22.95, "Taux directeur de la CBN": 11.5},
          {"mois": "avr-21", "Inflation": 18.12, "Inflation alimentaire": 22.72, "Taux directeur de la CBN": 11.5},
          {"mois": "mai-21", "Inflation": 17.93, "Inflation alimentaire": 22.28, "Taux directeur de la CBN": 11.5},
          {"mois": "juin-21", "Inflation": 17.75, "Inflation alimentaire": 21.83, "Taux directeur de la CBN": 11.5},
          {"mois": "juil-21", "Inflation": 17.38, "Inflation alimentaire": 21.03, "Taux directeur de la CBN": 11.5},
          {"mois": "août-21", "Inflation": 17.01, "Inflation alimentaire": 20.30, "Taux directeur de la CBN": 11.5},
          {"mois": "sept-21", "Inflation": 16.63, "Inflation alimentaire": 19.57, "Taux directeur de la CBN": 11.5},
          {"mois": "oct-21", "Inflation": 15.99, "Inflation alimentaire": 18.34, "Taux directeur de la CBN": 11.5},
          {"mois": "nov-21", "Inflation": 15.40, "Inflation alimentaire": 17.21, "Taux directeur de la CBN": 11.5},
          {"mois": "déc-21", "Inflation": 15.63, "Inflation alimentaire": 17.37, "Taux directeur de la CBN": 11.5},
          {"mois": "janv-22", "Inflation": 15.60, "Inflation alimentaire": 17.13, "Taux directeur de la CBN": 11.5},
          {"mois": "févr-22", "Inflation": 15.70, "Inflation alimentaire": 17.11, "Taux directeur de la CBN": 11.5},
          {"mois": "mars-22", "Inflation": 15.92, "Inflation alimentaire": 17.20, "Taux directeur de la CBN": 11.5},
          {"mois": "avr-22", "Inflation": 16.82, "Inflation alimentaire": 18.37, "Taux directeur de la CBN": 11.5},
          {"mois": "mai-22", "Inflation": 17.71, "Inflation alimentaire": 19.50, "Taux directeur de la CBN": 13},
          {"mois": "juin-22", "Inflation": 18.60, "Inflation alimentaire": 20.60, "Taux directeur de la CBN": 13},
          {"mois": "juil-22", "Inflation": 19.64, "Inflation alimentaire": 22.02, "Taux directeur de la CBN": 14},
          {"mois": "août-22", "Inflation": 20.52, "Inflation alimentaire": 23.12, "Taux directeur de la CBN": 14},
          {"mois": "sept-22", "Inflation": 20.77, "Inflation alimentaire": 23.34, "Taux directeur de la CBN": 15.5},
          {"mois": "oct-22", "Inflation": 21.09, "Inflation alimentaire": 23.72, "Taux directeur de la CBN": 15.5},
          {"mois": "nov-22", "Inflation": 21.47, "Inflation alimentaire": 24.13, "Taux directeur de la CBN": 16.5},
          {"mois": "déc-22", "Inflation": 21.34, "Inflation alimentaire": 23.75, "Taux directeur de la CBN": 16.5},
          {"mois": "janv-23", "Inflation": 21.82, "Inflation alimentaire": 24.32, "Taux directeur de la CBN": 17.5},
          {"mois": "févr-23", "Inflation": 21.91, "Inflation alimentaire": 24.35, "Taux directeur de la CBN": 17.5},
          {"mois": "mars-23", "Inflation": 22.04, "Inflation alimentaire": 24.45, "Taux directeur de la CBN": 18},
          {"mois": "avr-23", "Inflation": 22.22, "Inflation alimentaire": 24.61, "Taux directeur de la CBN": 18},
          {"mois": "mai-23", "Inflation": 22.41, "Inflation alimentaire": 24.82, "Taux directeur de la CBN": 18.5},
          {"mois": "juin-23", "Inflation": 22.79, "Inflation alimentaire": 25.25, "Taux directeur de la CBN": 18.5},
          {"mois": "juil-23", "Inflation": 24.08, "Inflation alimentaire": 26.98, "Taux directeur de la CBN": 18.75},
          {"mois": "août-23", "Inflation": 25.80, "Inflation alimentaire": 29.34, "Taux directeur de la CBN": 18.75}
        ]},
        "layer": [
          {"mark": {"type": "line", "strokeWidth": 6},
           "encoding": {
             "x": {"field": "mois", "type": "ordinal", "sort": null, "scale": {"type": "band", "paddingInner": 0, "paddingOuter": 0},
                   "axis": {"title": null, "values": ["janv-19", "mai-19", "sept-19", "janv-20", "mai-20", "sept-20", "janv-21", "mai-21", "sept-21", "janv-22", "mai-22", "sept-22", "janv-23", "mai-23"], "labelAngle": 270, "labelPadding": 16, "ticks": true, "tickBand": "extent", "tickSize": 12, "tickColor": "#D9D9D9", "tickWidth": 3, "domain": true, "domainColor": "#D9D9D9", "domainWidth": 3, "grid": false}},
             "y": {"field": "Inflation", "type": "quantitative", "scale": {"domain": [8, 33], "nice": false, "zero": false}, "axis": {"title": null, "values": [8, 13, 18, 23, 28, 33], "format": ".2f", "labelPadding": 36, "grid": true}},
             "stroke": {"datum": "Inflation", "scale": {"range": ["#00B0F0"]}, "legend": {"orient": "none", "legendX": -19, "legendY": 521, "title": null, "symbolType": "stroke", "symbolSize": 6724, "symbolStrokeWidth": 6, "labelOffset": 8}}
           }},
          {"mark": {"type": "line", "strokeWidth": 6},
           "encoding": {
             "x": {"field": "mois", "type": "ordinal", "sort": null},
             "y": {"field": "Inflation alimentaire", "type": "quantitative"},
             "stroke": {"datum": "Inflation alimentaire", "scale": {"range": ["#2E75B6"]}, "legend": {"orient": "none", "legendX": 492, "legendY": 521, "title": null, "symbolType": "stroke", "symbolSize": 6724, "symbolStrokeWidth": 6, "labelOffset": 8}}
           }},
          {"mark": {"type": "line", "strokeWidth": 6},
           "encoding": {
             "x": {"field": "mois", "type": "ordinal", "sort": null},
             "y": {"field": "Taux directeur de la CBN", "type": "quantitative"},
             "stroke": {"datum": "Taux directeur de la CBN", "scale": {"range": ["#002060"]}, "legend": {"orient": "none", "legendX": -19, "legendY": 579, "title": null, "symbolType": "stroke", "symbolSize": 6724, "symbolStrokeWidth": 6, "labelOffset": 8}}
           }},
          {"transform": [{"filter": {"field": "mois", "equal": "août-23"}}],
           "mark": {"type": "rule", "color": "#A6A6A6", "strokeWidth": 2.5, "x2Offset": -40, "y2Offset": -34},
           "encoding": {"x": {"field": "mois", "type": "ordinal", "sort": null}, "x2": {"field": "mois"}, "y": {"field": "Inflation alimentaire", "type": "quantitative"}, "y2": {"field": "Inflation alimentaire"}}},
          {"transform": [{"filter": {"field": "mois", "equal": "août-23"}}],
           "mark": {"type": "rule", "color": "#A6A6A6", "strokeWidth": 2.5, "xOffset": -40, "yOffset": -34, "x2Offset": -61, "y2Offset": -34},
           "encoding": {"x": {"field": "mois", "type": "ordinal", "sort": null}, "x2": {"field": "mois"}, "y": {"field": "Inflation alimentaire", "type": "quantitative"}, "y2": {"field": "Inflation alimentaire"}}},
          {"transform": [{"filter": {"field": "mois", "equal": "août-23"}}],
           "mark": {"type": "text", "font": "Lato", "align": "right", "baseline": "middle", "dx": -75, "dy": -31, "fontSize": 34, "color": "#404040"},
           "encoding": {"x": {"field": "mois", "type": "ordinal", "sort": null}, "y": {"field": "Inflation alimentaire", "type": "quantitative"}, "text": {"field": "Inflation alimentaire", "type": "quantitative", "format": ".2f"}}},
          {"transform": [{"filter": {"field": "mois", "equal": "août-23"}}],
           "mark": {"type": "rule", "color": "#A6A6A6", "strokeWidth": 2.5, "x2Offset": -57, "y2Offset": -16},
           "encoding": {"x": {"field": "mois", "type": "ordinal", "sort": null}, "x2": {"field": "mois"}, "y": {"field": "Inflation", "type": "quantitative"}, "y2": {"field": "Inflation"}}},
          {"transform": [{"filter": {"field": "mois", "equal": "août-23"}}],
           "mark": {"type": "rule", "color": "#A6A6A6", "strokeWidth": 2.5, "xOffset": -57, "yOffset": -16, "x2Offset": -77, "y2Offset": -16},
           "encoding": {"x": {"field": "mois", "type": "ordinal", "sort": null}, "x2": {"field": "mois"}, "y": {"field": "Inflation", "type": "quantitative"}, "y2": {"field": "Inflation"}}},
          {"transform": [{"filter": {"field": "mois", "equal": "août-23"}}],
           "mark": {"type": "text", "font": "Lato", "align": "right", "baseline": "middle", "dx": -90, "dy": -13, "fontSize": 34, "color": "#404040"},
           "encoding": {"x": {"field": "mois", "type": "ordinal", "sort": null}, "y": {"field": "Inflation", "type": "quantitative"}, "text": {"field": "Inflation", "type": "quantitative", "format": ".2f"}}},
          {"transform": [{"filter": {"field": "mois", "equal": "août-23"}}],
           "mark": {"type": "rule", "color": "#A6A6A6", "strokeWidth": 2.5, "xOffset": -44, "yOffset": 27},
           "encoding": {"x": {"field": "mois", "type": "ordinal", "sort": null}, "x2": {"field": "mois"}, "y": {"field": "Taux directeur de la CBN", "type": "quantitative"}, "y2": {"field": "Taux directeur de la CBN"}}},
          {"transform": [{"filter": {"field": "mois", "equal": "août-23"}}],
           "mark": {"type": "text", "font": "Lato", "align": "center", "baseline": "middle", "dx": -44, "dy": 59, "fontSize": 34, "color": "#404040"},
           "encoding": {"x": {"field": "mois", "type": "ordinal", "sort": null}, "y": {"field": "Taux directeur de la CBN", "type": "quantitative"}, "text": {"field": "Taux directeur de la CBN", "type": "quantitative", "format": ".2f"}}}
        ],
        "resolve": {"scale": {"stroke": "independent"}}
      }
    ], "spacing": 0, "bounds": "flush", "align": "each"}
  ], "spacing": 0, "bounds": "flush", "align": "each"},

  {
    "width": 2486, "height": 240,
    "data": {"values": [{"texte": "Direction Générale du Trésor"}]},
    "mark": {"type": "text", "font": "Open Sans", "fontSize": 45, "fontWeight": "bold", "color": "#000000"},
    "encoding": {"text": {"field": "texte"}}
  }
]
}
